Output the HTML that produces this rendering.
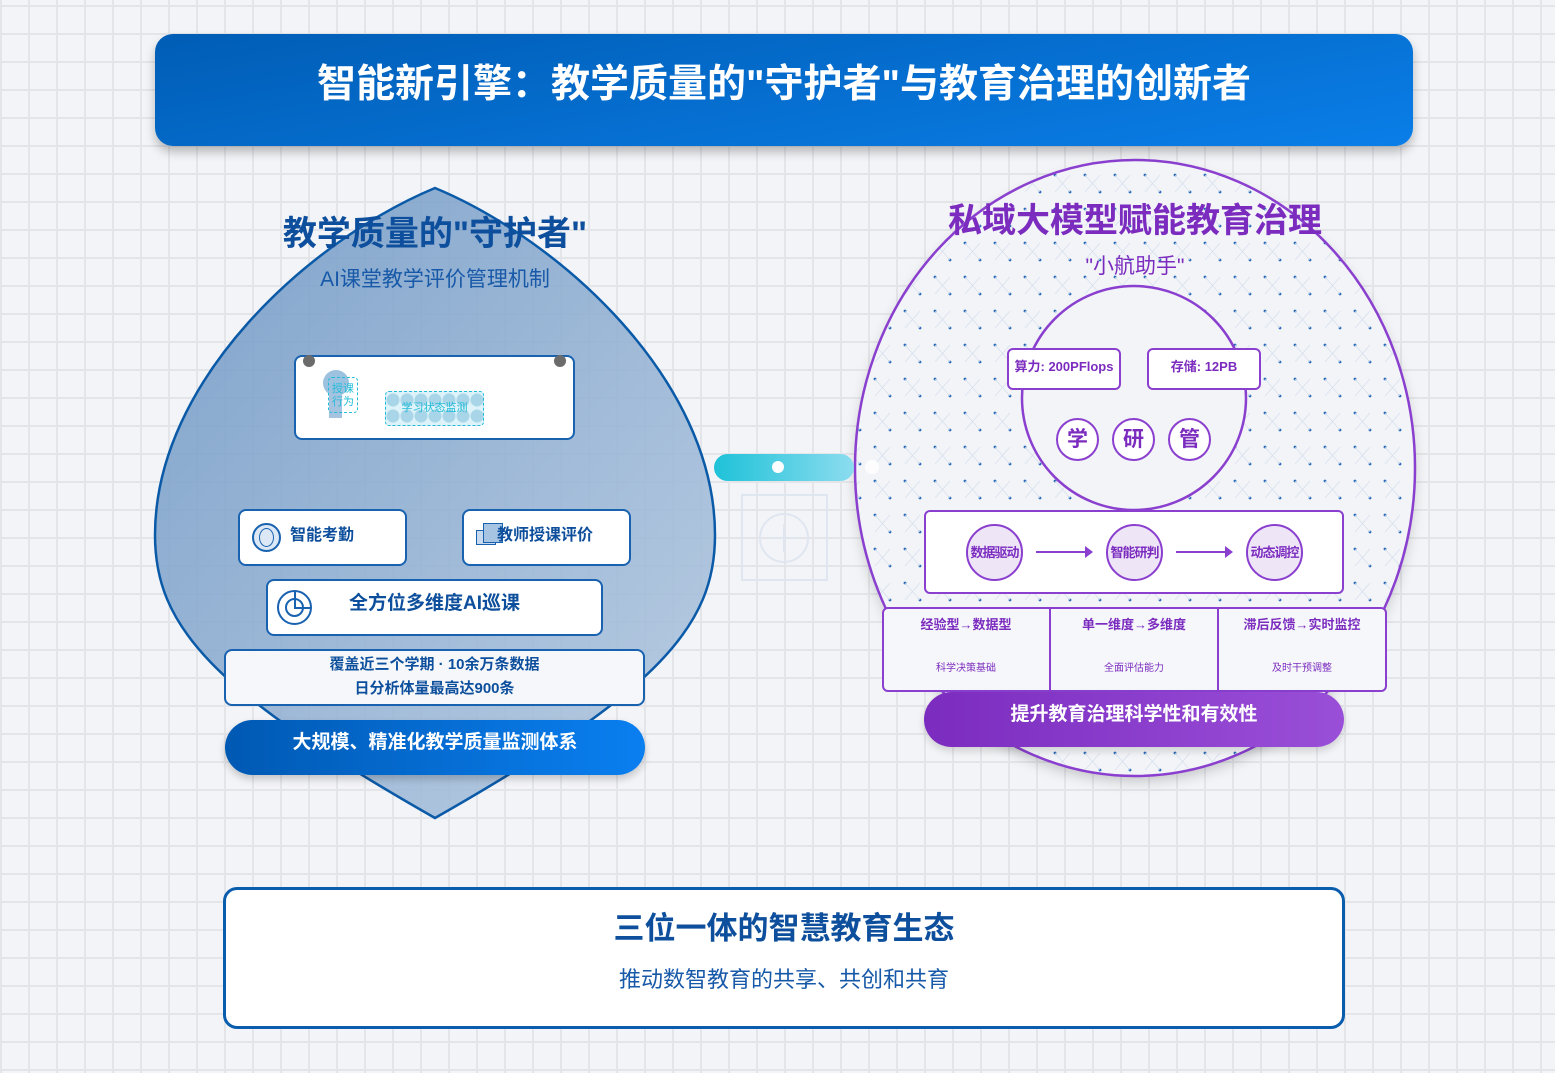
<!DOCTYPE html>
<html><head><meta charset="utf-8">
<style>
*{margin:0;padding:0;box-sizing:border-box}
body{width:1555px;height:1073px;overflow:hidden;position:relative;font-family:"Liberation Sans","Noto Sans CJK SC",sans-serif;
background-color:#f3f4f7;
background-image:linear-gradient(#e4e5e9 2px,transparent 2px),linear-gradient(90deg,#e4e5e9 2px,transparent 2px);
background-size:28px 28px;background-position:0 5px,0 0}
.a{position:absolute}
.box{position:absolute;background:#fff;border:2px solid #1862b0;border-radius:8px}
.t{position:absolute;white-space:nowrap}
.pbox{position:absolute;background:#fff;border:2px solid #8a3fcf;border-radius:6px}
</style></head><body>
<svg class="a" style="left:0;top:0" width="1555" height="1073">
<defs>
<linearGradient id="lg" x1="0" y1="0" x2="1" y2="1">
<stop offset="0" stop-color="#6e97c4"/><stop offset="1" stop-color="#b3c8e0"/></linearGradient>
<pattern id="dots" width="30" height="34" patternUnits="userSpaceOnUse">
<circle cx="5" cy="5" r="1.4" fill="#2a6bb8"/><circle cx="20" cy="22" r="1.4" fill="#2a6bb8"/>
<path d="M5 5 L20 22 M20 5 L5 22" stroke="#d3ddec" stroke-width="0.6"/></pattern>
<filter id="sh" x="-10%" y="-10%" width="120%" height="130%"><feDropShadow dx="0" dy="6" stdDeviation="6" flood-color="#000" flood-opacity="0.18"/></filter>
</defs>
<path d="M435,188 C560,240 715,380 715,535 C715,625 660,690 435,818 C210,690 155,625 155,535 C155,380 310,240 435,188 Z" fill="url(#lg)" fill-opacity="0.88" stroke="#0a5aa8" stroke-width="2.5"/>
<ellipse cx="1135" cy="468" rx="280" ry="308" fill="#f2f4f8" filter="url(#sh)"/>
<ellipse cx="1135" cy="468" rx="280" ry="308" fill="url(#dots)"/>
<ellipse cx="1135" cy="468" rx="280" ry="308" fill="none" stroke="#8a3fcf" stroke-width="2.5"/>
<circle cx="1134" cy="398" r="112" fill="#f3f4f8" stroke="#8a3fcf" stroke-width="2.5"/>
<rect x="742" y="495" width="85" height="85" fill="none" stroke="#dfe6f0" stroke-width="2"/>
<circle cx="784" cy="538" r="24" fill="none" stroke="#dfe6f0" stroke-width="2"/>
<path d="M770 538 H798 M784 524 V552" stroke="#dfe6f0" stroke-width="2"/>
<defs><linearGradient id="cy" x1="0" x2="1"><stop offset="0" stop-color="#1ec2d8"/><stop offset="1" stop-color="#8cdcef"/></linearGradient></defs>
<rect x="714" y="454" width="140" height="27" rx="13.5" fill="url(#cy)"/>
<circle cx="778" cy="467" r="6" fill="#fff"/><circle cx="872" cy="467" r="7" fill="#fff" opacity="0.8"/>
</svg>

<div class="a" style="left:155px;top:34px;width:1258px;height:112px;border-radius:18px;background:linear-gradient(170deg,#005db5,#0a7ee8);box-shadow:0 6px 10px rgba(0,0,0,0.25)"></div>
<div class="t" style="left:155px;top:53px;width:1258px;text-align:center;color:#fff;font-size:39px;font-weight:bold">智能新引擎：教学质量的"守护者"与教育治理的创新者</div>

<div class="t" style="left:235px;top:206px;width:400px;text-align:center;color:#0d4f9c;font-size:34px;font-weight:bold">教学质量的"守护者"</div>
<div class="t" style="left:235px;top:263px;width:400px;text-align:center;color:#1759a8;font-size:21px">AI课堂教学评价管理机制</div>

<div class="box" style="left:294px;top:355px;width:281px;height:85px"></div>
<div class="a" style="left:303px;top:355px;width:12px;height:12px;border-radius:50%;background:#6b6b6b"></div>
<div class="a" style="left:554px;top:355px;width:12px;height:12px;border-radius:50%;background:#6b6b6b"></div>
<div class="a" style="left:323px;top:370px;width:26px;height:26px;border-radius:50%;background:#9dc2df"></div>
<div class="a" style="left:329px;top:393px;width:13px;height:25px;background:#a6c3e0"></div>
<div class="a" style="left:328px;top:377px;width:30px;height:36px;border:1.5px dashed #22bcd8;border-radius:4px;color:#22bcd8;font-size:11px;line-height:13px;text-align:center;padding-top:5px">授课<br>行为</div>
<div class="a" style="left:385px;top:391px;width:99px;height:35px;border:1.5px dashed #22bcd8;border-radius:4px;background:radial-gradient(circle,#a9d5e8 6px,transparent 7px) 0 0/14px 16px,#ddf3f9;color:#22bcd8;font-size:11px;text-align:center;line-height:33px">学习状态监测</div>

<div class="box" style="left:238px;top:509px;width:169px;height:57px"></div>
<div class="a" style="left:252px;top:523px;width:29px;height:29px;border-radius:50%;border:2px solid #1862b0;background:#dce8f5"></div>
<div class="a" style="left:259px;top:528px;width:15px;height:19px;border-radius:50%;border:1.5px solid #1862b0"></div>
<div class="t" style="left:290px;top:521px;color:#0d4f9c;font-size:16px;font-weight:bold">智能考勤</div>
<div class="box" style="left:462px;top:509px;width:169px;height:57px"></div>
<div class="a" style="left:476px;top:530px;width:20px;height:15px;border:1.5px solid #1862b0;background:#c9daee"></div>
<div class="a" style="left:483px;top:523px;width:20px;height:20px;border:1.5px solid #1862b0;background:#a8c4e3"></div>
<div class="t" style="left:497px;top:521px;color:#0d4f9c;font-size:16px;font-weight:bold">教师授课评价</div>
<div class="box" style="left:266px;top:579px;width:337px;height:57px"></div>
<div class="a" style="left:277px;top:590px;width:35px;height:35px;border-radius:50%;border:2px solid #1862b0"></div>
<div class="a" style="left:285px;top:598px;width:19px;height:19px;border-radius:50%;border:2px solid #1862b0"></div>
<div class="a" style="left:294px;top:592px;width:2px;height:16px;background:#1862b0"></div>
<div class="a" style="left:294px;top:607px;width:16px;height:2px;background:#1862b0"></div>
<div class="t" style="left:266px;top:588px;width:337px;text-align:center;color:#0d4f9c;font-size:19px;font-weight:bold">全方位多维度AI巡课</div>

<div class="box" style="left:224px;top:649px;width:421px;height:57px;background:#f5f7fa;border-color:#1862b0"></div>
<div class="t" style="left:224px;top:653px;width:421px;text-align:center;color:#0d4f9c;font-size:15px;font-weight:bold;line-height:24px">覆盖近三个学期 · 10余万条数据<br>日分析体量最高达900条</div>
<div class="a" style="left:225px;top:720px;width:420px;height:55px;border-radius:28px;background:linear-gradient(90deg,#0059b3,#0a7ff0);box-shadow:0 4px 8px rgba(0,0,0,0.2)"></div>
<div class="t" style="left:225px;top:727px;width:420px;text-align:center;color:#fff;font-size:19px;font-weight:bold">大规模、精准化教学质量监测体系</div>

<div class="t" style="left:900px;top:193px;width:470px;text-align:center;color:#7b2cbf;font-size:34px;font-weight:bold">私域大模型赋能教育治理</div>
<div class="t" style="left:900px;top:250px;width:470px;text-align:center;color:#7b2cbf;font-size:21px">"小航助手"</div>

<div class="pbox" style="left:1007px;top:348px;width:114px;height:42px"></div>
<div class="t" style="left:1007px;top:356px;width:114px;text-align:center;color:#7b2cbf;font-size:13px;font-weight:bold">算力: 200PFlops</div>
<div class="pbox" style="left:1147px;top:348px;width:114px;height:42px"></div>
<div class="t" style="left:1147px;top:356px;width:114px;text-align:center;color:#7b2cbf;font-size:13px;font-weight:bold">存储: 12PB</div>
<div class="pbox" style="left:1056px;top:418px;width:43px;height:43px;border-radius:50%;text-align:center;line-height:39px;font-size:21px;font-weight:bold;color:#7b2cbf">学</div>
<div class="pbox" style="left:1112px;top:418px;width:43px;height:43px;border-radius:50%;text-align:center;line-height:39px;font-size:21px;font-weight:bold;color:#7b2cbf">研</div>
<div class="pbox" style="left:1168px;top:418px;width:43px;height:43px;border-radius:50%;text-align:center;line-height:39px;font-size:21px;font-weight:bold;color:#7b2cbf">管</div>

<div class="pbox" style="left:924px;top:510px;width:420px;height:84px"></div>
<div class="pbox" style="left:966px;top:524px;width:57px;height:57px;border-radius:50%;background:#eee5f7;text-align:center;line-height:53px;font-size:13px;font-weight:bold;color:#7b2cbf;letter-spacing:-1px">数据驱动</div>
<div class="pbox" style="left:1106px;top:524px;width:57px;height:57px;border-radius:50%;background:#eee5f7;text-align:center;line-height:53px;font-size:13px;font-weight:bold;color:#7b2cbf;letter-spacing:-1px">智能研判</div>
<div class="pbox" style="left:1246px;top:524px;width:57px;height:57px;border-radius:50%;background:#eee5f7;text-align:center;line-height:53px;font-size:13px;font-weight:bold;color:#7b2cbf;letter-spacing:-1px">动态调控</div>
<svg class="a" style="left:0;top:0" width="1555" height="1073">
<path d="M1036 552 H1086" stroke="#8a3fcf" stroke-width="2"/><path d="M1085 546 L1093 552 L1085 558Z" fill="#8a3fcf"/>
<path d="M1176 552 H1226" stroke="#8a3fcf" stroke-width="2"/><path d="M1225 546 L1233 552 L1225 558Z" fill="#8a3fcf"/>
</svg>

<div class="pbox" style="left:882px;top:607px;width:505px;height:85px;background:#f6f7fa"></div>
<div class="a" style="left:1049px;top:608px;width:2px;height:83px;background:#8a3fcf"></div>
<div class="a" style="left:1217px;top:608px;width:2px;height:83px;background:#8a3fcf"></div>
<div class="t" style="left:882px;top:614px;width:168px;text-align:center;color:#7b2cbf;font-size:13px;font-weight:bold">经验型→数据型</div>
<div class="t" style="left:1050px;top:614px;width:168px;text-align:center;color:#7b2cbf;font-size:13px;font-weight:bold">单一维度→多维度</div>
<div class="t" style="left:1218px;top:614px;width:168px;text-align:center;color:#7b2cbf;font-size:13px;font-weight:bold">滞后反馈→实时监控</div>
<div class="t" style="left:882px;top:659px;width:168px;text-align:center;color:#7b2cbf;font-size:10px">科学决策基础</div>
<div class="t" style="left:1050px;top:659px;width:168px;text-align:center;color:#7b2cbf;font-size:10px">全面评估能力</div>
<div class="t" style="left:1218px;top:659px;width:168px;text-align:center;color:#7b2cbf;font-size:10px">及时干预调整</div>
<div class="a" style="left:924px;top:692px;width:420px;height:55px;border-radius:28px;background:linear-gradient(90deg,#7b2cbf,#9a4fd8);box-shadow:0 4px 8px rgba(0,0,0,0.15)"></div>
<div class="t" style="left:924px;top:699px;width:420px;text-align:center;color:#fff;font-size:19px;font-weight:bold">提升教育治理科学性和有效性</div>

<div class="a" style="left:223px;top:887px;width:1122px;height:142px;background:#fff;border:3px solid #0a5cad;border-radius:14px"></div>
<div class="t" style="left:223px;top:903px;width:1122px;text-align:center;color:#0d4f9c;font-size:31px;font-weight:bold">三位一体的智慧教育生态</div>
<div class="t" style="left:223px;top:962px;width:1122px;text-align:center;color:#1759a8;font-size:22px">推动数智教育的共享、共创和共育</div>
</body></html>
